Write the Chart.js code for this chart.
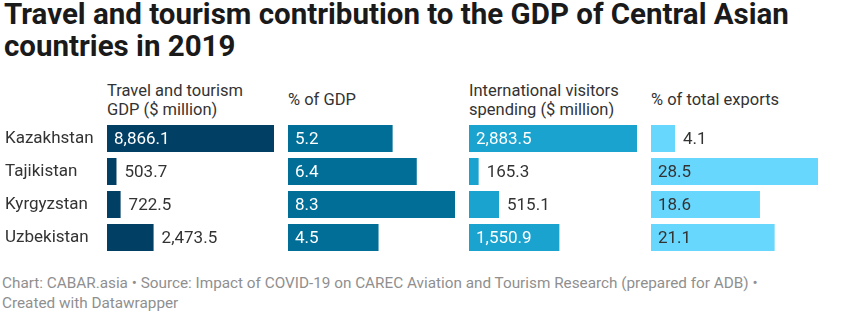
<!DOCTYPE html>
<html>
<head>
<meta charset="utf-8">
<script src="https://cdn.jsdelivr.net/npm/chart.js@4"></script>
<style>
  body { margin: 0; background: #fff; font-family: Roboto, sans-serif; color: #333; }
  #wrap { position: relative; width: 859px; height: 330px; overflow: hidden; }
  h1 { position: absolute; left: 4px; top: -2px; margin: 0; font-size: 29.5px; line-height: 32px; font-weight: 700; color: #1a1a1a; width: 855px; }
  .head { position: absolute; top: 80px; height: 40px; display: flex; align-items: center; font-size: 16.5px; line-height: 19.5px; color: #333; }
  .box { position: absolute; top: 122px; height: 132px; }
  #foot { position: absolute; left: 2px; top: 273px; font-size: 15.3px; line-height: 20px; color: #8f8f8f; width: 855px; }
</style>
</head>
<body>
<div id="wrap">
  <h1>Travel and tourism contribution to the GDP of Central Asian countries in 2019</h1>
  <div class="head" style="left:107px">Travel and tourism<br>GDP ($ million)</div>
  <div class="head" style="left:288px">% of GDP</div>
  <div class="head" style="left:469px">International visitors<br>spending ($ million)</div>
  <div class="head" style="left:651px">% of total exports</div>
  <div class="box" style="left:5px;width:269px"><canvas id="c1"></canvas></div>
  <div class="box" style="left:288px;width:167px"><canvas id="c2"></canvas></div>
  <div class="box" style="left:469px;width:168px"><canvas id="c3"></canvas></div>
  <div class="box" style="left:651px;width:167px"><canvas id="c4"></canvas></div>
  <div id="foot">Chart: CABAR.asia • Source: Impact of COVID-19 on CAREC Aviation and Tourism Research (prepared for ADB) •<br>Created with Datawrapper</div>
</div>
<script>
  const countries = ["Kazakhstan", "Tajikistan", "Kyrgyzstan", "Uzbekistan"];
  const tourismGdp = [8866.1, 503.7, 722.5, 2473.5];
  const pctGdp = [5.2, 6.4, 8.3, 4.5];
  const visitorSpending = [2883.5, 165.3, 515.1, 1550.9];
  const pctExports = [4.1, 28.5, 18.6, 21.1];

  const money = (v) => v.toLocaleString("en-US", { minimumFractionDigits: 1, maximumFractionDigits: 1 });
  const pct = (v) => v.toFixed(1);

  // etiquetas de valor: dentro de la barra si cabe, si no a la derecha
  const valueLabels = {
    id: "valueLabels",
    afterDatasetsDraw(chart, args, opts) {
      const ctx = chart.ctx;
      const meta = chart.getDatasetMeta(0);
      const data = chart.data.datasets[0].data;
      ctx.save();
      ctx.font = "17px Roboto";
      ctx.textBaseline = "middle";
      ctx.textAlign = "left";
      meta.data.forEach((bar, i) => {
        const txt = opts.format(data[i]);
        const w = ctx.measureText(txt).width;
        const barW = bar.x - bar.base;
        if (w + 14 < barW) {
          ctx.fillStyle = opts.inside;
          ctx.fillText(txt, bar.base + 7, bar.y + 1);
        } else {
          ctx.fillStyle = "#333";
          ctx.fillText(txt, bar.x + 8, bar.y + 1);
        }
      });
      ctx.restore();
    }
  };

  function makeChart(id, values, color, inside, format, showLabels) {
    const ctx = document.getElementById(id).getContext("2d");
    const yScale = {
      display: showLabels,
      grid: { display: false },
      border: { display: false },
      ticks: { crossAlign: "far", color: "#333", font: { family: "Roboto", size: 17 }, padding: 0 }
    };
    if (showLabels) {
      // ancho fijo para los nombres y sin relleno extra arriba/abajo
      yScale.afterFit = (scale) => {
        scale.width = 102;
        scale.paddingTop = 0;
        scale.paddingBottom = 0;
      };
    }
    return new Chart(ctx, {
      type: "bar",
      data: {
        labels: countries,
        datasets: [{
          data: values,
          backgroundColor: color,
          borderWidth: 0,
          categoryPercentage: 1,
          barPercentage: 27 / 33
        }]
      },
      options: {
        indexAxis: "y",
        responsive: true,
        maintainAspectRatio: false,
        animation: false,
        layout: { padding: 0 },
        plugins: {
          legend: { display: false },
          tooltip: { enabled: false },
          valueLabels: { inside, format }
        },
        scales: {
          x: { display: false, min: 0, max: Math.max(...values) },
          y: yScale
        }
      },
      plugins: [valueLabels]
    });
  }

  makeChart("c1", tourismGdp, "#023f64", "#fff", money, true);
  makeChart("c2", pctGdp, "#016e97", "#fff", pct, false);
  makeChart("c3", visitorSpending, "#1aa3cf", "#fff", money, false);
  makeChart("c4", pctExports, "#68d7fe", "#333", pct, false);
</script>
</body>
</html>
